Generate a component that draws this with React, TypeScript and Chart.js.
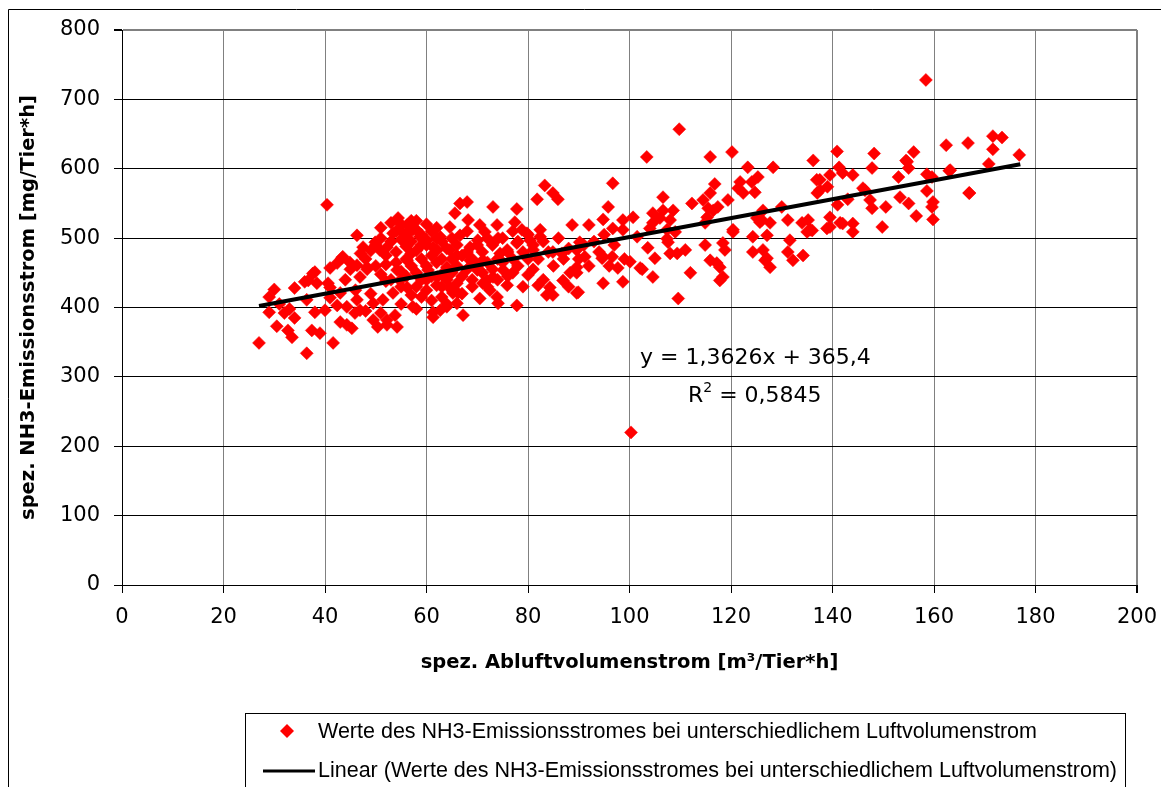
import { useEffect, useRef } from 'react';
import { Chart, registerables } from 'chart.js';

Chart.register(...registerables);

const xTickValues = [0, 20, 40, 60, 80, 100, 120, 140, 160, 180, 200];
const yTickValues = [0, 100, 200, 300, 400, 500, 600, 700, 800];

const xTitle = 'spez. Abluftvolumenstrom [m³/Tier*h]';
const yTitle = 'spez. NH3-Emissionsstrom [mg/Tier*h]';
const seriesName = 'Werte des NH3-Emissionsstromes bei unterschiedlichem Luftvolumenstrom';
const trendName = 'Linear (Werte des NH3-Emissionsstromes bei unterschiedlichem Luftvolumenstrom)';
const equationText = 'y = 1,3626x + 365,4';
const r2Text = '0,5845';

// [spez. Abluftvolumenstrom, spez. NH3-Emissionsstrom]
const measurements: [number, number][] = [
  [27, 349], [30, 426], [29, 415], [29, 393], [32, 392], [30.5, 373], [32.7, 367], [33.5, 357], [34, 385], [36.4, 334],
  [37.4, 367], [39, 363], [38, 393], [34, 428], [36, 437], [37.6, 449], [38.4, 435], [36.4, 411], [40, 396], [41.6, 349],
  [41, 457], [42.4, 464], [43.3, 471], [41, 429], [42.4, 403], [43, 379], [44.3, 375], [45.3, 370], [45.9, 392], [46.3, 411],
  [46.9, 444], [48.3, 458], [49.5, 382], [50.4, 372], [52.2, 375], [53.8, 389], [57.3, 401], [61.3, 393], [64, 401], [65.2, 421],
  [64.6, 429], [40.4, 548], [46.3, 504], [47.5, 487], [49.9, 494], [54.4, 529], [56.2, 519], [53.4, 507], [52.2, 487], [50.8, 483],
  [43.5, 473], [46.3, 461], [48.3, 455], [44.9, 465], [57.3, 512], [58.7, 502], [60.1, 497], [61.3, 487], [56.2, 468], [54.2, 454],
  [38, 451], [36.7, 439], [40.6, 435], [41, 414], [43, 421], [44.3, 401], [46.9, 396], [49.5, 406], [51.4, 411], [53.4, 421],
  [54.8, 439], [56.2, 429], [52.2, 382], [54.2, 372], [60.3, 454], [62.1, 444], [31, 405], [33, 398],
  [66.6, 550], [68, 552], [65.6, 536], [73.1, 545], [77.8, 542], [68.2, 526], [64.6, 516], [70.5, 519], [73.9, 519], [77.4, 523],
  [78.8, 512], [82.4, 512], [83.3, 576], [84.9, 565], [85.9, 556], [81.8, 556], [88.7, 519], [96.7, 579], [95.8, 545], [94.8, 527],
  [96.7, 514], [98.7, 526], [90.2, 494], [89.6, 483], [91.2, 473], [86.7, 478], [82.4, 502], [80.4, 497], [81, 483], [84.9, 480],
  [94.8, 473], [96.6, 473], [97.7, 457], [94.8, 435], [98.7, 437], [89.6, 450], [89.6, 421], [86.9, 439], [84.3, 429], [84.9, 418],
  [82, 432], [80, 447], [77.8, 403], [75.9, 432], [77, 450], [73.9, 415], [72.5, 425], [70.5, 413], [71.9, 439], [67.2, 389],
  [66, 406], [66.2, 421], [62.7, 396], [61.3, 386], [62.7, 502], [66.6, 504], [68.6, 487], [70.1, 497], [71.5, 509], [74.1, 500],
  [75.9, 483], [77.8, 493], [79.8, 507], [74.5, 478], [71.1, 468], [68.6, 468], [64.6, 483], [62.1, 483], [64, 458], [70, 454],
  [73.1, 444], [75.1, 454], [71.1, 435], [74.1, 406], [83.7, 418], [88.3, 450], [89.6, 458], [89.9, 422], [94.6, 471], [100.1, 466],
  [102.1, 457], [92, 519],
  [106.6, 559], [104.6, 536], [106.6, 540], [108.6, 540], [108, 526], [106, 529], [104.6, 522], [104, 514], [100.7, 530], [98.7, 512],
  [101.5, 502], [107.4, 512], [109, 509], [107.4, 499], [108, 478], [109.4, 478], [111, 483], [112, 450], [109.6, 413], [104.6, 444],
  [102.5, 455], [103.6, 486], [105, 471], [112.3, 550], [114.5, 555], [115.9, 565], [116.8, 578], [115.5, 543], [115.3, 530], [116.5, 540],
  [117.4, 545], [114.9, 522], [114.9, 490], [115.9, 468], [117.2, 464], [118.4, 493], [118.8, 483], [118.4, 444], [117.8, 439], [119.4, 555],
  [120.2, 624], [120.4, 512], [121.4, 572], [121.8, 581], [122.4, 565], [123.3, 602], [124.1, 581], [124.7, 566], [125.3, 588], [128.3, 602],
  [126.3, 540], [126.1, 526], [125.1, 529], [127.7, 522], [124.3, 502], [127.1, 504], [124.3, 480], [126.3, 483], [126.7, 468], [127.7, 458],
  [130, 545], [131.2, 526], [131.6, 497], [131.2, 480], [132.2, 468], [134.2, 475], [134, 522], [135.2, 526], [135.6, 512], [136.2, 612],
  [136.9, 584], [109.8, 657], [103.4, 617], [115.9, 617], [100.3, 220], [117.8, 458], [107.6, 494], [120.4, 509], [127.1, 471], [125.7, 523],
  [135, 509], [138.9, 514], [141.5, 522], [144, 509],
  [158.4, 728], [162.4, 634], [166.7, 637], [171.6, 647], [173.4, 645], [171.6, 628], [176.8, 620], [170.8, 607], [163.2, 598], [166.9, 565],
  [158.6, 592], [159.6, 588], [158.6, 568], [159.8, 552], [159.6, 545], [159.8, 527], [156, 624], [154.5, 612], [155, 601], [153, 588],
  [148.2, 622], [147.8, 601], [140.9, 625], [141.3, 602], [142, 594], [144, 591], [139.5, 591], [137.5, 584], [146, 572], [147.4, 555],
  [147.8, 543], [150.5, 545], [153.3, 559], [155, 550], [156.5, 532], [149.8, 516], [144, 521], [139.5, 530], [139.5, 516], [136, 511],
  [142, 521], [137.5, 569], [139, 574], [137, 565], [154.7, 610], [163, 597], [167, 565], [146.4, 569], [141, 548], [143, 556],
  [48, 470], [49, 482], [50, 490], [50, 460], [51, 500], [51, 448], [52, 475], [52, 462], [53, 495], [53, 440],
  [54, 510], [54, 480], [54, 465], [55, 520], [55, 498], [55, 452], [55, 430], [56, 505], [56, 488], [56, 470],
  [56, 445], [57, 525], [57, 495], [57, 460], [57, 418], [58, 512], [58, 482], [58, 450], [58, 430], [59, 505],
  [59, 470], [59, 440], [59, 415], [60, 520], [60, 490], [60, 460], [60, 425], [61, 510], [61, 475], [61, 445],
  [61, 410], [62, 500], [62, 465], [62, 432], [63, 495], [63, 470], [63, 448], [63, 415], [64, 485], [64, 440],
  [64, 405], [65, 500], [65, 470], [65, 450], [65, 425], [66, 490], [66, 460], [66, 435], [67, 475], [67, 445],
  [67, 420], [68, 510], [68, 480], [68, 455], [69, 470], [69, 440], [69, 430], [70, 490], [70, 460], [71, 480],
  [71, 450], [72, 500], [72, 465], [72, 430], [73, 490], [73, 455], [74, 470], [74, 440], [75, 500], [75, 465],
  [76, 480], [76, 445], [77, 510], [77, 470], [78, 495], [78, 460], [79, 480], [79, 430], [80, 505], [80, 470],
  [81, 490], [81, 455], [82, 470], [83, 440], [83, 495], [84, 480], [85, 460], [86, 500], [87, 470], [88, 485],
  [88, 430], [90, 470], [91, 490], [92, 460], [93, 495], [94, 480], [95, 505], [96, 460], [97, 490], [99, 470],
  [51, 515], [53, 522], [55, 510], [58, 525], [47, 478], [45, 455], [44, 440], [49, 420], [52, 438], [60, 440],
  [62, 515], [59, 490], [57, 478], [46, 425], [48, 395], [51, 392], [55, 405], [58, 398], [63, 430], [66, 475],
];

const trendX = [27, 177];
const trendY = [402.2, 606.6];

const TICK_FONT = "'DejaVu Sans', sans-serif";
const TITLE_FONT = "'DejaVu Sans', sans-serif";
const LEGEND_FONT = "'Liberation Sans', Arial, sans-serif";

const decorPlugin = {
  id: 'decor',
  beforeDraw(chart: any) {
    const ctx = chart.ctx;
    ctx.save();
    ctx.fillStyle = '#ffffff';
    ctx.fillRect(0, 0, chart.width, chart.height);
    ctx.restore();
  },
  afterDraw(chart: any) {
    const ctx = chart.ctx;
    ctx.save();
    // outer frame
    ctx.strokeStyle = '#000000';
    ctx.lineWidth = 1;
    ctx.beginPath();
    ctx.moveTo(8.5, chart.height);
    ctx.lineTo(8.5, 9.5);
    ctx.lineTo(chart.width, 9.5);
    ctx.stroke();

    // regression text
    ctx.fillStyle = '#000000';
    ctx.font = `22px ${TICK_FONT}`;
    ctx.textBaseline = 'middle';
    ctx.textAlign = 'left';
    ctx.fillText(equationText, 640, 358);
    ctx.fillText('R', 688, 396);
    const rW = ctx.measureText('R').width;
    ctx.font = `14px ${TICK_FONT}`;
    ctx.fillText('2', 688 + rW, 388);
    const twoW = ctx.measureText('2').width;
    ctx.font = `22px ${TICK_FONT}`;
    ctx.fillText(' = ' + r2Text, 688 + rW + twoW, 396);

    // legend box
    ctx.strokeStyle = '#000000';
    ctx.lineWidth = 1;
    ctx.strokeRect(245.5, 713.5, 880, 120);
    // diamond marker
    ctx.fillStyle = '#ff0000';
    ctx.beginPath();
    ctx.moveTo(287, 724);
    ctx.lineTo(294, 731);
    ctx.lineTo(287, 738);
    ctx.lineTo(280, 731);
    ctx.closePath();
    ctx.fill();
    // line sample
    ctx.strokeStyle = '#000000';
    ctx.lineWidth = 3;
    ctx.beginPath();
    ctx.moveTo(263, 771);
    ctx.lineTo(315, 771);
    ctx.stroke();

    ctx.fillStyle = '#000000';
    ctx.font = `21.5px ${LEGEND_FONT}`;
    ctx.textBaseline = 'middle';
    ctx.fillText(seriesName, 318, 732);
    ctx.fillText(trendName, 318, 771);
    ctx.restore();
  },
};

export default function App() {
  const canvasRef = useRef<HTMLCanvasElement | null>(null);

  useEffect(() => {
    document.body.style.margin = '0';
    const canvas = canvasRef.current;
    if (!canvas) return;
    const chart = new Chart(canvas, {
      type: 'scatter',
      data: {
        datasets: [
          {
            type: 'line',
            label: trendName,
            data: trendX.map((x, i) => ({ x, y: trendY[i] })),
            borderColor: '#000000',
            borderWidth: 4,
            pointRadius: 0,
            showLine: true,
            fill: false,
            order: 0,
          } as any,
          {
            type: 'scatter',
            label: seriesName,
            data: measurements.map(([x, y]) => ({ x, y })),
            pointStyle: 'rectRot',
            pointRadius: 6.5,
            backgroundColor: '#ff0000',
            borderColor: '#ff0000',
            borderWidth: 0.5,
            order: 1,
          } as any,
        ],
      },
      options: {
        responsive: false,
        animation: false,
        events: [],
        layout: { padding: { left: 0, top: 30, right: 24, bottom: 102 } },
        plugins: {
          legend: { display: false },
          tooltip: { enabled: false },
        },
        scales: {
          x: {
            type: 'linear',
            min: 0,
            max: 200,
            afterBuildTicks: (axis: any) => {
              axis.ticks = xTickValues.map((v) => ({ value: v }));
            },
            afterFit: (axis: any) => {
              axis.height = 100;
              axis.paddingLeft = 0;
              axis.paddingRight = 0;
            },
            ticks: {
              color: '#000000',
              font: { family: TICK_FONT, size: 21 },
              padding: 12,
              maxRotation: 0,
              autoSkip: false,
            },
            grid: {
              color: '#808080',
              lineWidth: (c: any) => (c.tick && c.tick.value === 200 ? 2 : 1),
              tickColor: '#000000',
              tickLength: 8,
              drawTicks: true,
            },
            border: { display: true, color: '#000000', width: 1 },
            title: {
              display: true,
              text: xTitle,
              color: '#000000',
              font: { family: TITLE_FONT, size: 19.5, weight: 'bold' },
              padding: { top: 0, bottom: 10 },
            },
          },
          y: {
            type: 'linear',
            min: 0,
            max: 800,
            afterBuildTicks: (axis: any) => {
              axis.ticks = yTickValues.map((v) => ({ value: v }));
            },
            afterFit: (axis: any) => {
              axis.width = 122;
              axis.paddingTop = 0;
              axis.paddingBottom = 0;
            },
            ticks: {
              color: '#000000',
              font: { family: TICK_FONT, size: 21 },
              padding: 14,
              autoSkip: false,
            },
            grid: {
              color: (c: any) => (c.tick && c.tick.value === 800 ? '#808080' : '#000000'),
              lineWidth: (c: any) => (c.tick && c.tick.value === 800 ? 2 : 1),
              tickColor: '#000000',
              tickLength: 8,
              drawTicks: true,
            },
            border: { display: true, color: '#000000', width: 1 },
            title: {
              display: true,
              text: yTitle,
              color: '#000000',
              font: { family: TITLE_FONT, size: 19.5, weight: 'bold' },
              padding: { top: 17, bottom: 0 },
            },
          },
        },
      },
      plugins: [decorPlugin],
    } as any);
    return () => {
      chart.destroy();
    };
  }, []);

  return (
    <div style={{ width: 1161, height: 787, overflow: 'hidden' }}>
      <canvas ref={canvasRef} width={1161} height={787} style={{ display: 'block' }} />
    </div>
  );
}
